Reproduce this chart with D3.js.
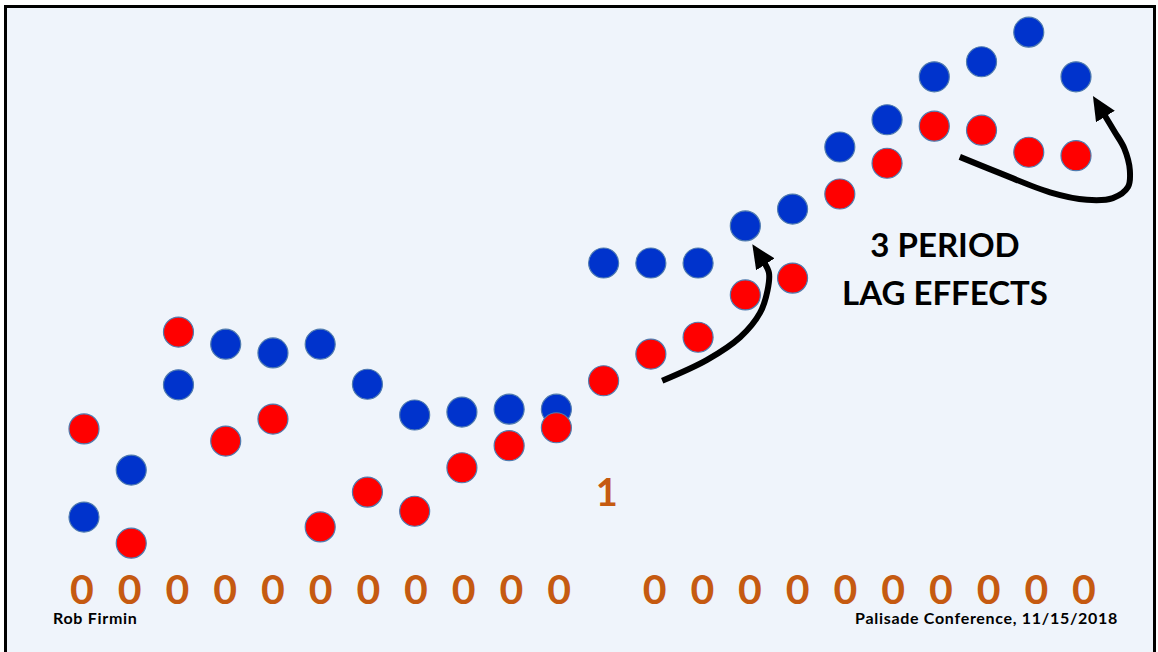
<!DOCTYPE html>
<html>
<head>
<meta charset="utf-8">
<script src="https://cdn.jsdelivr.net/npm/d3@7"></script>
<style>
  html, body { margin: 0; padding: 0; background: #ffffff; }
  svg { display: block; }
  text { font-family: Lato, "Open Sans", "DejaVu Sans", sans-serif; font-weight: 700; }
</style>
</head>
<body>
<svg id="chart" width="1158" height="652"></svg>
<script>
// ---------- data ----------
const periods = d3.range(22);               // period index 0..21
const redValues  = [29.5, 9.8, 46.2, 27.4, 31.2, 12.6, 18.6, 15.3, 22.8, 26.6, 29.7,
                    37.8, 42.4, 45.3, 52.6, 55.5, 70.0, 75.3, 81.7, 81.0, 77.2, 76.6];
const blueValues = [14.3, 22.4, 37.1, 44.1, 42.6, 44.1, 37.2, 31.9, 32.4, 32.9, 32.9,
                    58.1, 58.1, 58.1, 64.5, 67.4, 78.1, 82.8, 90.2, 92.8, 97.9, 90.2];
const flagLabels = [0,0,0,0,0,0,0,0,0,0,0, 1, 0,0,0,0,0,0,0,0,0,0];
const titleLines = ["3 PERIOD", "LAG EFFECTS"];
const footerLeft = "Rob Firmin";
const footerRight = "Palisade Conference, 11/15/2018";
// lag arrows, in (period, value) coordinates
const lagArrow1 = [[12.24,37.8],[13.19,41.4],[13.89,45.3],[14.31,49.5],[14.47,53.4],[14.50,56.4],[14.39,58.3]];
const lagArrow2 = [[18.54,76.4],[19.39,73.6],[20.45,70.3],[21.23,69.0],[21.78,69.3],[22.10,71.2],
                   [22.14,74.1],[22.02,77.9],[21.82,80.7],[21.59,83.8]];

// ---------- scales ----------
const x = d3.scaleLinear().domain([0, 21]).range([84, 1076]);
const y = d3.scaleLinear().domain([0, 100]).range([600, 20]);
const labelX = d3.scaleLinear().domain([0, 21]).range([82, 1084]);
const labelY = d3.scaleLinear().domain([0, 1]).range([604, 506]);

const svg = d3.select("#chart");

// slide frame
svg.append("rect")
  .attr("x", 5.5).attr("y", 6.5)
  .attr("width", 1149).attr("height", 660)
  .attr("fill", "#EFF4FB")
  .attr("stroke", "#000").attr("stroke-width", 3);

// arrowhead marker
const defs = svg.append("defs");
defs.append("marker")
  .attr("id", "head")
  .attr("markerUnits", "userSpaceOnUse")
  .attr("viewBox", "0 0 24 22")
  .attr("refX", 3).attr("refY", 11)
  .attr("markerWidth", 24).attr("markerHeight", 22)
  .attr("orient", "auto")
  .append("path").attr("d", "M0,0 L24,11 L0,22 Z").attr("fill", "#000");

// dots: blue first, red on top
const dotG = svg.append("g");
dotG.selectAll("circle.blue").data(periods).join("circle")
  .attr("class", "blue")
  .attr("cx", i => x(i)).attr("cy", i => y(blueValues[i]))
  .attr("r", 15)
  .attr("fill", "#0033CC").attr("stroke", "#4F7BAF").attr("stroke-width", 1.2);
dotG.selectAll("circle.red").data(periods).join("circle")
  .attr("class", "red")
  .attr("cx", i => x(i)).attr("cy", i => y(redValues[i]))
  .attr("r", 15)
  .attr("fill", "#FF0000").attr("stroke", "#4F7BAF").attr("stroke-width", 1.2);

// arrows
const line = d3.line().x(d => x(d[0])).y(d => y(d[1])).curve(d3.curveCatmullRom);
[lagArrow1, lagArrow2].forEach(a => {
  svg.append("path").attr("d", line(a))
    .attr("fill", "none").attr("stroke", "#000").attr("stroke-width", 6)
    .attr("marker-end", "url(#head)");
});

// 0/1 flags
svg.append("g").selectAll("text").data(periods).join("text")
  .attr("x", i => labelX(i)).attr("y", i => labelY(flagLabels[i]))
  .attr("text-anchor", "middle")
  .attr("font-size", i => flagLabels[i] ? 38 : 41)
  .attr("fill", "#C55A11")
  .text(i => flagLabels[i]);

// annotation title
svg.append("g").selectAll("text").data(titleLines).join("text")
  .attr("x", 945).attr("y", (d, i) => 257 + i * 48)
  .attr("text-anchor", "middle")
  .attr("font-size", 33).attr("fill", "#000")
  .text(d => d);

// footers
svg.append("text").attr("x", 53).attr("y", 624)
  .attr("font-size", 16).attr("letter-spacing", 0.7).attr("fill", "#000").text(footerLeft);
svg.append("text").attr("x", 1118).attr("y", 624).attr("text-anchor", "end")
  .attr("font-size", 16).attr("letter-spacing", 0.7).attr("fill", "#000").text(footerRight);
</script>
</body>
</html>
